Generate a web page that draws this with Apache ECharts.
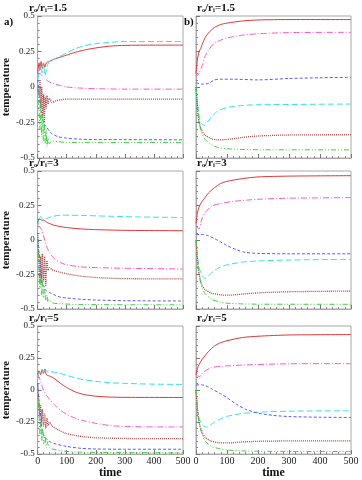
<!DOCTYPE html>
<html>
<head>
<meta charset="utf-8">
<script src="https://cdn.jsdelivr.net/npm/echarts@6/dist/echarts.min.js"></script>
<style>
html, body { margin: 0; padding: 0; background: #fff; }
#chart { width: 362px; height: 480px; }
</style>
</head>
<body>
<div id="chart"></div>
<script>
let titles = ['r\u2092/r\u1d62=1.5', 'r\u2092/r\u1d62=3', 'r\u2092/r\u1d62=5'];
let xTicks = [0, 100, 200, 300, 400, 500];

// panel a, ro/ri = 1.5
let a1Red = [[0,0.1],[5,0.17],[8,0.12],[12,0.18],[16,0.13],[20,0.17],[25,0.14],[30,0.17],[40,0.18],[50,0.19],[70,0.205],[100,0.225],[130,0.245],[160,0.26],[200,0.275],[250,0.288],[300,0.293],[400,0.295],[500,0.295]];
let a1Cyan = [[0,0.05],[5,0.1],[10,0.15],[15,0.1],[20,0.17],[25,0.08],[30,0.12],[35,0.16],[40,0.18],[50,0.19],[70,0.21],[100,0.24],[130,0.27],[160,0.29],[200,0.305],[250,0.315],[300,0.32],[400,0.32],[500,0.32]];
let a1Magenta = [[0,0.1],[10,0.09],[20,0.07],[30,0.05],[40,0.035],[60,0.02],[80,0.01],[100,0.0],[150,-0.008],[200,-0.012],[300,-0.015],[500,-0.015]];
let a1Brown = [[0,0.0],[5,-0.05],[8,0.05],[11,-0.15],[14,0.0],[17,-0.2],[20,-0.05],[23,-0.25],[26,-0.07],[29,-0.15],[32,-0.06],[36,-0.12],[40,-0.08],[50,-0.11],[60,-0.1],[80,-0.09],[100,-0.085],[200,-0.085],[500,-0.085]];
let a1Blue = [[0,0.05],[5,-0.05],[10,-0.15],[15,-0.2],[20,-0.25],[25,-0.27],[30,-0.28],[40,-0.31],[50,-0.33],[70,-0.35],[100,-0.36],[150,-0.368],[200,-0.37],[500,-0.372]];
let a1Green = [[0,0.0],[5,-0.15],[8,-0.3],[11,-0.12],[14,-0.35],[17,-0.2],[20,-0.38],[23,-0.25],[26,-0.4],[29,-0.3],[32,-0.42],[36,-0.35],[40,-0.4],[50,-0.38],[70,-0.385],[100,-0.39],[500,-0.39]];

// panel b, ro/ri = 1.5
let b1Red = [[0,0.1],[5,0.2],[10,0.25],[15,0.27],[20,0.3],[30,0.35],[40,0.38],[60,0.42],[80,0.44],[100,0.45],[150,0.465],[200,0.472],[300,0.475],[500,0.475]];
let b1Cyan = [[0,0.0],[5,-0.12],[10,-0.2],[15,-0.25],[25,-0.27],[35,-0.25],[50,-0.21],[70,-0.17],[100,-0.145],[150,-0.13],[200,-0.125],[500,-0.12]];
let b1Magenta = [[0,0.1],[5,0.08],[10,0.1],[20,0.15],[30,0.22],[40,0.26],[60,0.31],[80,0.33],[100,0.345],[150,0.365],[200,0.375],[300,0.383],[500,0.385]];
let b1Brown = [[0,0.0],[5,-0.15],[10,-0.25],[20,-0.31],[30,-0.34],[50,-0.365],[70,-0.372],[100,-0.37],[150,-0.355],[200,-0.345],[300,-0.338],[500,-0.336]];
let b1Blue = [[0,0.03],[20,0.02],[40,0.025],[60,0.05],[80,0.055],[120,0.055],[200,0.05],[300,0.06],[400,0.065],[500,0.068]];
let b1Green = [[0,0.0],[5,-0.15],[10,-0.25],[20,-0.33],[30,-0.37],[50,-0.405],[70,-0.425],[100,-0.435],[150,-0.44],[200,-0.442],[500,-0.443]];

// panel a, ro/ri = 3
let a2Red = [[0,0.12],[5,0.155],[10,0.15],[15,0.14],[20,0.145],[30,0.13],[40,0.12],[60,0.105],[100,0.09],[150,0.08],[200,0.075],[300,0.07],[500,0.067]];
let a2Cyan = [[0,0.1],[5,0.15],[10,0.17],[15,0.155],[20,0.14],[30,0.155],[50,0.17],[80,0.18],[150,0.178],[250,0.172],[350,0.167],[500,0.163]];
let a2Magenta = [[0,0.1],[10,0.09],[20,0.03],[30,-0.04],[40,-0.09],[60,-0.14],[80,-0.165],[100,-0.18],[150,-0.195],[200,-0.2],[300,-0.205],[500,-0.21]];
let a2Brown = [[0,0.05],[4,-0.15],[7,-0.3],[10,-0.12],[13,-0.32],[16,-0.1],[20,-0.3],[24,-0.12],[28,-0.33],[32,-0.15],[36,-0.22],[40,-0.2],[50,-0.215],[70,-0.23],[100,-0.245],[150,-0.262],[200,-0.272],[300,-0.28],[500,-0.282]];
let a2Blue = [[0,0.0],[5,-0.1],[10,-0.2],[15,-0.3],[20,-0.33],[30,-0.37],[40,-0.38],[60,-0.4],[80,-0.415],[100,-0.42],[150,-0.43],[200,-0.435],[300,-0.44],[500,-0.442]];
let a2Green = [[0,0.0],[5,-0.2],[8,-0.35],[11,-0.25],[14,-0.4],[17,-0.3],[20,-0.42],[24,-0.35],[28,-0.44],[32,-0.4],[36,-0.45],[40,-0.43],[50,-0.455],[80,-0.462],[150,-0.468],[500,-0.47]];

// panel b, ro/ri = 3
let b2Red = [[0,0.12],[5,0.2],[10,0.24],[20,0.28],[30,0.31],[40,0.34],[60,0.38],[80,0.41],[100,0.425],[150,0.445],[200,0.457],[300,0.463],[500,0.466]];
let b2Cyan = [[0,0.0],[5,-0.12],[10,-0.2],[20,-0.26],[30,-0.28],[40,-0.26],[60,-0.22],[80,-0.195],[100,-0.18],[150,-0.16],[200,-0.152],[300,-0.145],[500,-0.14]];
let b2Magenta = [[0,0.1],[5,0.09],[10,0.08],[15,0.12],[20,0.16],[30,0.2],[50,0.245],[80,0.265],[120,0.28],[200,0.295],[300,0.303],[500,0.307]];
let b2Brown = [[0,0.0],[5,-0.15],[10,-0.25],[20,-0.33],[30,-0.36],[50,-0.385],[80,-0.398],[100,-0.4],[150,-0.392],[200,-0.383],[300,-0.375],[500,-0.37]];
let b2Blue = [[0,0.04],[20,0.04],[40,0.03],[60,0.01],[80,-0.015],[100,-0.04],[130,-0.07],[160,-0.09],[200,-0.097],[300,-0.1],[500,-0.1]];
let b2Green = [[0,0.0],[5,-0.15],[10,-0.25],[20,-0.35],[30,-0.39],[50,-0.43],[80,-0.45],[100,-0.458],[150,-0.463],[200,-0.465],[500,-0.466]];

// panel a, ro/ri = 5
let a3Red = [[0,0.12],[5,0.15],[10,0.12],[15,0.16],[20,0.13],[25,0.165],[30,0.12],[40,0.11],[50,0.1],[60,0.085],[80,0.05],[100,0.02],[130,-0.015],[160,-0.035],[200,-0.048],[250,-0.055],[300,-0.057],[500,-0.058]];
let a3Cyan = [[0,0.1],[5,0.14],[10,0.15],[20,0.15],[40,0.145],[70,0.135],[100,0.115],[130,0.095],[160,0.08],[200,0.068],[250,0.057],[300,0.052],[400,0.046],[500,0.044]];
let a3Magenta = [[0,0.12],[5,0.1],[10,0.07],[20,0.0],[30,-0.04],[40,-0.07],[60,-0.12],[80,-0.16],[100,-0.19],[130,-0.22],[160,-0.24],[200,-0.26],[250,-0.277],[300,-0.284],[400,-0.288],[500,-0.288]];
let a3Brown = [[0,0.05],[4,-0.1],[7,-0.2],[10,-0.12],[13,-0.25],[16,-0.15],[20,-0.28],[24,-0.18],[28,-0.3],[32,-0.22],[36,-0.28],[40,-0.25],[50,-0.28],[70,-0.31],[100,-0.34],[130,-0.355],[160,-0.365],[200,-0.372],[300,-0.378],[500,-0.38]];
let a3Blue = [[0,0.05],[5,-0.1],[10,-0.2],[15,-0.3],[20,-0.35],[30,-0.38],[40,-0.4],[60,-0.42],[100,-0.44],[150,-0.455],[200,-0.46],[300,-0.462],[500,-0.462]];
let a3Green = [[0,0.0],[5,-0.2],[8,-0.35],[11,-0.25],[14,-0.4],[17,-0.3],[21,-0.42],[25,-0.35],[30,-0.45],[35,-0.4],[40,-0.45],[50,-0.46],[80,-0.475],[150,-0.485],[500,-0.49]];

// panel b, ro/ri = 5
let b3Red = [[0,0.12],[5,0.17],[10,0.2],[20,0.24],[30,0.27],[40,0.3],[60,0.345],[80,0.37],[100,0.385],[150,0.41],[200,0.42],[300,0.43],[500,0.433]];
let b3Cyan = [[0,0.0],[5,-0.15],[10,-0.22],[20,-0.27],[33,-0.29],[45,-0.275],[60,-0.25],[80,-0.225],[100,-0.205],[150,-0.183],[200,-0.173],[300,-0.165],[500,-0.162]];
let b3Magenta = [[0,0.12],[5,0.11],[10,0.105],[15,0.11],[20,0.13],[30,0.15],[50,0.175],[80,0.185],[150,0.195],[300,0.205],[500,0.206]];
let b3Brown = [[0,0.0],[5,-0.15],[10,-0.25],[20,-0.33],[30,-0.37],[50,-0.4],[80,-0.412],[100,-0.413],[150,-0.405],[200,-0.4],[300,-0.397],[500,-0.396]];
let b3Blue = [[0,0.04],[20,0.04],[30,0.035],[50,0.01],[80,-0.03],[100,-0.06],[130,-0.11],[160,-0.15],[200,-0.18],[250,-0.198],[300,-0.207],[400,-0.212],[500,-0.214]];
let b3Green = [[0,0.0],[5,-0.15],[10,-0.26],[20,-0.35],[30,-0.4],[50,-0.44],[80,-0.46],[100,-0.468],[150,-0.475],[200,-0.478],[500,-0.48]];

let panels = [
	[a1Red, a1Cyan, a1Magenta, a1Brown, a1Blue, a1Green],
	[b1Red, b1Cyan, b1Magenta, b1Brown, b1Blue, b1Green],
	[a2Red, a2Cyan, a2Magenta, a2Brown, a2Blue, a2Green],
	[b2Red, b2Cyan, b2Magenta, b2Brown, b2Blue, b2Green],
	[a3Red, a3Cyan, a3Magenta, a3Brown, a3Blue, a3Green],
	[b3Red, b3Cyan, b3Magenta, b3Brown, b3Blue, b3Green]
];

// red, cyan, magenta, brown, blue, green
let lineColors = ['#e23535', '#33e3e3', '#ff55d0', '#b04848', '#5a5aff', '#3ccf3c'];
let lineTypes = ['solid', [6, 3], [6, 2, 1, 2], [1, 1], [3, 2], [5, 2, 1, 2, 1, 2]];

let serif = 'Liberation Serif';
let tops = [16, 171, 326];
let heights = [142, 138, 135];
let lefts = [28, 196];

let myChart = echarts.init(document.getElementById('chart'));

let grid = [];
let xAxis = [];
let yAxis = [];
let series = [];
let graphic = [];

for (let i = 0; i < 6; i++) {
	let row = Math.floor(i / 2);
	let col = i % 2;
	let bottom = row === 2;
	grid.push({
		left: lefts[col], top: tops[row], width: 155, height: heights[row],
		show: true, borderColor: '#a8a8a8', borderWidth: 1, backgroundColor: 'transparent'
	});
	xAxis.push({
		gridIndex: i, type: 'value', min: 0, max: 500, interval: 100,
		name: bottom ? 'time' : '', nameLocation: 'middle', nameGap: 9,
		nameTextStyle: { fontFamily: serif, fontWeight: 'bold', fontSize: 12, color: '#111' },
		axisLine: { onZero: false, lineStyle: { color: '#a8a8a8' } },
		axisTick: { inside: true, length: 4, lineStyle: { color: '#777' } },
		minorTick: { show: true, splitNumber: 5, length: 2, lineStyle: { color: '#888' } },
		splitLine: { show: false },
		axisLabel: {
			show: bottom, margin: 2, fontFamily: serif, fontSize: 10, color: '#222',
			customValues: xTicks
		}
	});
	yAxis.push({
		gridIndex: i, type: 'value', min: -0.5, max: 0.5, interval: 0.25,
		name: col === 0 ? 'temperature' : '', nameLocation: 'middle', nameGap: 20, nameRotate: 90,
		nameTextStyle: { fontFamily: serif, fontWeight: 'bold', fontSize: 11, color: '#111' },
		axisLine: { onZero: false, lineStyle: { color: '#a8a8a8' } },
		axisTick: { inside: true, length: 4, lineStyle: { color: '#777' } },
		minorTick: { show: true, splitNumber: 5, length: 2, lineStyle: { color: '#888' } },
		splitLine: { show: false },
		axisLabel: { show: col === 0, margin: 3, fontFamily: serif, fontSize: 9, color: '#222' }
	});
	panels[i].forEach((data, k) => {
		series.push({
			type: 'line', xAxisIndex: i, yAxisIndex: i,
			data: data, showSymbol: false, smooth: 0.25,
			lineStyle: { color: lineColors[k], width: k === 3 ? 1.3 : 1, type: lineTypes[k] },
			silent: true, animation: false
		});
	});
	graphic.push({
		type: 'text', left: lefts[col] + 1, top: tops[row] - 13,
		style: { text: titles[row], font: 'bold 11px "Liberation Serif"', fill: '#111' }
	});
}

graphic.push({ type: 'text', left: 4, top: 17, style: { text: 'a)', font: 'bold 11px "Liberation Serif"', fill: '#111' } });
graphic.push({ type: 'text', left: 184, top: 17, style: { text: 'b)', font: 'bold 11px "Liberation Serif"', fill: '#111' } });

let option = {
	animation: false,
	grid: grid,
	xAxis: xAxis,
	yAxis: yAxis,
	series: series,
	graphic: graphic
};

myChart.setOption(option);
</script>
</body>
</html>
